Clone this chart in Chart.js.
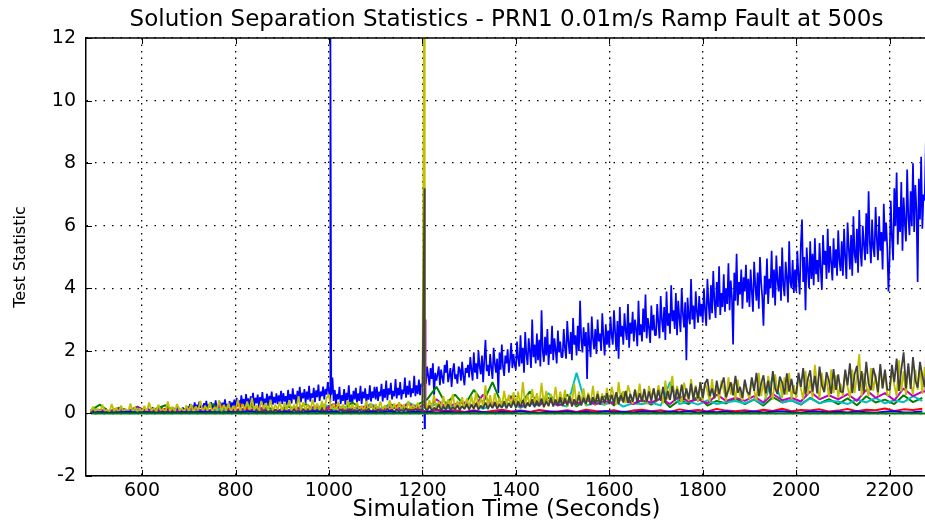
<!DOCTYPE html>
<html>
<head>
<meta charset="utf-8">
<title>Solution Separation Statistics</title>
<script src="https://cdn.jsdelivr.net/npm/chart.js@4.4.0/dist/chart.umd.min.js"></script>
<style>
  html, body { margin: 0; padding: 0; background: #fff; overflow: hidden; }
  #wrap { width: 927px; height: 522px; }
</style>
</head>
<body>
<div id="wrap"><canvas id="ssChart" width="927" height="522"></canvas></div>
<script>
// sample times (seconds) of the logged statistics
var blueStart = 490, blueStep = 2.5;
var denseStart = 490, denseStep = 5;
var sparseStart = 490, sparseStep = 20;

var xTickValues = [600, 800, 1000, 1200, 1400, 1600, 1800, 2000, 2200];
var yTickValues = [-2, 0, 2, 4, 6, 8, 10, 12];

// faulted satellite solution (blue), every 2.5 s from 490 s
var blueMain = [
	0.02,0.12,0.04,0.1,0.01,0.14,0.05,0.09,0.03,0.13,0.06,0.11,0.02,0.15,0.04,0.08,0.01,0.12,0.05,0.1,0.03,0.14,
	0.06,0.09,0.02,0.13,0.04,0.11,0.01,0.15,0.05,0.1,0.03,0.12,0.06,0.08,0.02,0.14,0.04,0.11,0.05,0.13,0.03,0.1,
	0.04,0.15,0.06,0.12,0.03,0.18,0.07,0.14,0.05,0.2,0.08,0.13,0.04,0.17,0.06,0.11,0.09,0.19,0.05,0.14,
	0.07,0.16,0.03,0.2,0.08,0.12,0.06,0.18,0.04,0.15,0.09,0.21,0.07,0.13,0.05,0.19,0.1,0.16,0.06,0.22,
	0.1,0.3,0.14,0.25,0.09,0.35,0.16,0.28,0.12,0.38,0.18,0.26,0.1,0.33,0.15,0.4,0.13,0.29,0.2,0.36,
	0.11,0.31,0.17,0.42,0.14,0.27,0.19,0.37,0.12,0.34,0.22,0.45,0.15,0.3,0.2,0.39,0.16,0.35,0.24,0.44,
	0.2,0.5,0.25,0.42,0.18,0.58,0.28,0.46,0.22,0.62,0.3,0.48,0.2,0.55,0.26,0.66,0.24,0.5,0.32,0.6,
	0.22,0.52,0.3,0.68,0.26,0.47,0.34,0.63,0.24,0.56,0.36,0.7,0.28,0.53,0.33,0.64,0.3,0.58,0.38,0.72,
	0.3,0.65,0.38,0.55,0.28,0.75,0.4,0.62,0.32,0.8,0.45,0.6,0.3,0.72,0.42,0.85,0.36,0.66,0.48,0.78,
	0.34,0.7,0.44,0.88,0.38,0.64,0.5,0.82,0.36,0.74,0.52,0.92,0.4,0.7,0.55,0.86,0.45,0.78,0.6,1.0,
	0.7,0.35,0.6,1.15,0.4,0.75,0.3,0.62,0.45,0.85,0.3,0.58,0.4,0.78,0.28,0.66,0.42,0.9,0.35,0.6,
	0.3,0.72,0.45,0.82,0.32,0.64,0.4,0.88,0.3,0.7,0.48,0.8,0.36,0.62,0.44,0.9,0.38,0.7,0.5,0.85,
	0.45,0.85,0.4,0.7,0.55,0.95,0.38,0.78,0.5,1.05,0.42,0.8,0.6,0.98,0.45,0.72,0.55,1.1,0.48,0.82,
	0.58,1.0,0.45,0.76,0.62,1.15,0.5,0.88,0.6,1.05,0.52,0.8,0.65,1.2,0.55,0.9,0.62,1.08,0.58,0.95,
	0.85,1.0,1.35,0.95,1.5,1.2,0.9,1.45,1.1,1.6,0.55,1.3,1.05,1.25,1.5,0.9,1.4,1.15,0.95,1.55,
	1.3,1.7,1.0,1.2,1.45,0.85,1.35,1.6,1.1,1.25,0.95,1.5,1.4,1.05,1.65,1.2,0.9,1.45,1.3,1.55,
	1.15,1.8,1.4,1.05,1.95,1.3,1.6,1.1,2.0,1.5,1.25,1.85,1.0,1.7,2.35,1.35,1.55,1.2,1.9,1.45,
	1.1,2.1,1.6,1.3,1.75,0.65,1.95,1.4,2.2,1.5,1.2,1.85,1.6,2.05,1.3,1.7,2.25,1.45,1.9,1.55,
	1.4,2.3,1.75,1.5,2.5,1.6,2.1,1.3,2.6,1.9,1.55,2.4,2.0,1.45,3.0,1.8,2.2,1.6,2.55,1.7,
	2.35,1.5,3.3,2.0,1.65,2.45,1.85,2.7,1.55,2.2,1.9,2.8,1.7,2.4,2.05,1.6,2.65,1.95,2.3,1.8,
	1.8,2.7,2.1,1.75,2.95,2.3,1.9,2.6,1.7,3.05,2.2,2.5,1.85,2.8,2.0,3.6,2.35,1.95,2.75,2.15,
	2.6,1.1,2.9,2.25,1.8,3.1,2.4,2.05,2.7,1.9,3.0,2.3,2.55,2.0,3.2,2.45,1.85,2.85,2.2,2.65,
	2.1,3.1,2.5,2.2,3.3,2.6,2.0,2.95,1.75,3.4,2.45,2.8,2.2,3.2,2.65,2.35,3.5,2.1,2.9,2.55,
	3.25,2.3,3.0,2.7,2.15,3.6,2.5,2.85,2.3,3.35,2.6,3.8,2.4,3.05,2.75,2.25,3.45,2.65,3.15,2.5,
	2.5,3.5,2.9,2.4,3.75,3.0,2.6,3.4,2.35,3.9,2.8,3.2,2.55,4.1,2.95,3.3,2.7,3.85,2.5,3.6,
	3.05,2.6,4.0,3.2,2.75,3.55,1.7,3.7,3.1,2.85,4.3,3.0,3.45,2.7,3.9,3.25,2.9,3.75,3.1,3.5,
	2.9,4.0,3.3,2.8,4.3,3.5,3.0,4.1,3.2,4.55,3.6,3.05,4.2,3.4,4.7,3.15,3.85,3.4,4.45,3.25,
	4.0,3.5,4.8,3.3,4.25,3.7,2.2,4.5,3.6,5.1,3.45,4.2,3.8,4.6,3.35,4.35,3.9,4.75,3.55,4.3,
	3.4,4.6,3.9,3.25,4.85,4.1,3.6,4.5,3.35,5.0,4.2,3.7,2.8,4.4,3.8,4.95,3.5,4.3,4.0,5.2,
	3.7,4.6,3.45,5.05,4.25,3.9,4.7,3.6,5.3,4.1,3.75,4.85,4.35,3.55,5.5,4.2,4.0,4.9,3.85,4.6,
	3.9,5.2,4.4,3.8,5.4,6.2,4.2,5.0,3.3,5.3,4.6,4.0,5.5,4.3,5.1,4.1,5.6,4.45,4.9,4.2,
	5.45,4.6,3.95,5.7,4.75,5.2,4.3,5.9,4.5,5.35,4.8,4.25,5.6,4.65,5.25,4.4,5.85,4.9,4.55,5.5,
	4.4,5.9,5.0,4.3,6.1,5.3,4.6,5.7,4.4,6.3,5.1,4.8,5.9,4.5,6.5,5.2,4.7,6.0,5.4,4.9,
	6.4,5.1,7.1,5.5,4.8,6.2,5.3,5.0,6.6,5.6,4.9,6.3,5.2,5.8,4.6,6.7,5.5,6.1,5.3,3.9,
	5.0,6.8,5.6,4.9,7.2,6.0,7.7,5.4,6.6,5.8,7.4,5.2,6.9,6.1,5.5,7.8,6.3,5.7,7.1,6.0,
	8.0,5.8,7.3,6.5,4.2,7.5,6.2,8.2,5.9,7.0,6.8,8.7,7.2
];
var blueMainSpike = [[1003, 13]];

// every 5 s from 490 s
var yellowVals = [
	0.03,0.22,0.06,0.15,0.02,0.28,0.08,0.12,0.04,0.3,0.07,0.18,0.02,0.25,0.05,0.14,0.03,0.32,0.06,0.2,0.04,0.16,
	0.05,0.24,0.03,0.35,0.08,0.18,0.04,0.28,0.1,0.15,0.03,0.38,0.06,0.22,0.05,0.3,0.09,0.17,0.04,0.26,
	0.06,0.3,0.04,0.22,0.1,0.4,0.05,0.25,0.08,0.35,0.04,0.2,0.12,0.42,0.06,0.28,0.09,0.33,0.05,0.24,
	0.08,0.45,0.06,0.3,0.12,0.38,0.07,0.5,0.1,0.26,0.05,0.4,0.14,0.32,0.08,0.44,0.06,0.28,0.12,0.36,
	0.07,0.34,0.1,0.42,0.06,0.28,0.12,0.55,0.08,0.36,0.1,0.3,0.06,0.45,0.13,0.32,0.08,0.4,0.11,0.5,
	0.6,0.1,0.32,0.06,0.38,0.12,0.28,0.08,0.42,0.1,0.3,0.06,0.36,0.12,0.25,0.08,0.4,0.1,0.33,0.07,
	0.3,0.08,0.38,0.12,0.26,0.06,0.42,0.1,0.32,0.08,0.36,0.14,0.28,0.07,0.4,0.11,0.3,0.09,0.35,0.12,
	0.2,0.5,0.12,0.42,0.18,0.6,0.14,0.38,0.2,0.55,0.12,0.45,0.22,0.62,0.15,0.4,0.2,0.52,0.13,0.48,
	0.18,0.55,0.22,0.7,0.16,0.48,0.25,0.9,0.2,0.58,0.18,0.65,0.24,0.5,0.2,0.72,0.26,0.6,0.18,0.68,
	0.25,0.7,0.2,1.0,0.28,0.6,0.22,0.78,0.3,0.65,0.24,0.98,0.28,0.72,0.22,0.62,0.3,0.85,0.25,0.7,
	0.28,0.75,0.22,0.62,0.3,0.95,0.26,0.7,0.32,0.8,0.24,0.66,0.3,0.88,0.28,0.72,0.34,0.64,0.26,0.82,
	0.3,0.85,0.55,0.28,1.0,0.4,0.7,0.32,0.9,0.62,0.3,0.78,0.45,0.95,0.35,0.68,0.3,0.88,0.5,0.8,
	0.36,0.9,0.6,0.32,1.05,0.45,0.8,1.2,0.38,0.88,0.55,0.34,0.98,0.65,0.4,1.1,0.5,0.9,0.36,1.0,
	0.4,1.0,0.7,0.38,1.1,0.5,0.92,0.42,1.05,0.75,0.4,1.15,0.6,0.95,0.44,1.08,0.55,0.42,0.98,0.7,
	0.45,1.1,0.75,0.42,1.3,0.55,1.0,0.46,1.2,0.8,0.44,1.25,0.65,1.08,0.48,1.15,0.6,1.3,0.46,0.9,
	0.5,1.2,0.8,0.45,1.35,0.6,1.1,0.5,1.55,0.85,0.48,1.3,0.7,1.12,0.52,1.4,0.65,1.22,0.5,0.95,
	0.55,1.3,0.85,0.5,1.4,0.65,1.2,1.9,0.55,1.28,0.9,0.55,1.45,0.72,1.25,0.56,1.5,0.8,1.35,0.58,
	0.6,1.45,0.9,0.55,1.7,0.7,1.35,0.58,1.5,0.95,0.6,1.4,0.75,1.55,0.62,1.48,0.7
];
var yellowSpike = [[1203.5, 13]];

var grayVals = [
	0.02,0.05,0.01,0.04,0.02,0.06,0.01,0.03,0.02,0.05,0.01,0.04,0.03,0.06,0.02,0.04,0.01,0.05,0.02,0.03,0.01,0.04,
	0.02,0.06,0.03,0.05,0.01,0.07,0.02,0.04,0.03,0.06,0.02,0.05,0.01,0.07,0.03,0.04,0.02,0.06,0.03,0.05,
	0.02,0.07,0.03,0.05,0.02,0.08,0.04,0.06,0.02,0.09,0.03,0.06,0.04,0.08,0.02,0.07,0.03,0.09,0.04,0.06,
	0.03,0.09,0.04,0.07,0.02,0.1,0.05,0.08,0.03,0.11,0.04,0.07,0.05,0.1,0.03,0.09,0.04,0.12,0.05,0.08,
	0.04,0.11,0.05,0.08,0.03,0.12,0.06,0.09,0.04,0.13,0.05,0.1,0.06,0.12,0.04,0.11,0.05,0.14,0.06,0.1,
	0.04,0.12,0.05,0.09,0.06,0.13,0.04,0.1,0.05,0.14,0.06,0.11,0.04,0.12,0.05,0.1,0.06,0.15,0.05,0.11,
	0.05,0.13,0.06,0.1,0.05,0.15,0.07,0.12,0.05,0.14,0.06,0.11,0.07,0.16,0.05,0.12,0.06,0.15,0.07,0.13,
	0.1,0.2,0.08,0.25,0.1,0.18,0.12,0.28,0.09,0.22,0.12,0.3,0.1,0.2,0.13,0.26,0.11,0.24,0.14,0.3,
	0.12,0.28,0.15,0.32,0.12,0.25,0.16,0.35,0.14,0.3,0.17,0.36,0.15,0.28,0.18,0.38,0.16,0.32,0.19,0.4,
	0.18,0.38,0.2,0.42,0.17,0.35,0.22,0.45,0.2,0.4,0.23,0.48,0.2,0.38,0.24,0.5,0.22,0.44,0.25,0.52,
	0.24,0.48,0.26,0.55,0.22,0.45,0.28,0.58,0.25,0.5,0.3,0.6,0.27,0.52,0.3,0.62,0.28,0.55,0.32,0.65,
	0.3,0.6,0.33,0.68,0.3,0.58,0.35,0.72,0.33,0.62,0.37,0.75,0.34,0.65,0.38,0.78,0.36,0.7,0.4,0.8,
	0.38,0.75,0.4,0.85,0.37,0.72,0.43,0.88,0.4,0.78,0.45,0.92,0.42,0.8,0.46,0.95,0.44,0.85,0.48,1.0,
	0.5,0.95,1.1,0.55,0.8,0.48,1.05,0.62,0.9,1.15,0.52,0.75,1.0,0.58,1.2,0.66,0.85,0.5,1.08,0.7,
	0.6,1.15,0.72,1.3,0.55,0.95,1.22,0.64,1.05,0.58,1.35,0.8,0.62,1.18,0.98,0.6,1.28,0.7,1.1,0.66,
	0.62,1.3,0.85,1.45,0.6,1.1,1.38,0.7,1.2,0.64,1.5,0.9,0.68,1.32,1.05,0.62,1.42,0.75,1.25,0.7,
	0.68,1.4,0.9,1.6,0.65,1.25,1.52,0.72,1.35,0.7,1.65,0.95,0.74,1.45,1.15,0.68,1.58,0.8,1.4,0.76,
	0.75,1.55,1.0,1.75,0.72,1.4,1.95,0.8,1.6,0.78,1.8,1.05,0.82,1.65,1.2,0.85,1.7
];
var graySpike = [[1204.5, 7.2]];

// every 20 s from 490 s
var greenVals = [
	0.1,0.28,0.05,0.18,0.08,0.22,0.04,0.15,0.26,0.07,
	0.12,0.2,0.06,0.3,0.1,0.16,0.08,0.25,0.12,0.18,
	0.08,0.22,0.14,0.3,0.1,0.2,0.28,0.12,0.35,0.15,
	0.22,0.1,0.3,0.18,0.12,0.28,0.45,0.85,0.3,0.6,
	0.25,0.75,0.35,1.0,0.28,0.55,0.3,0.7,0.25,0.5,
	0.3,0.6,0.22,0.45,0.35,0.55,0.25,0.68,0.3,0.42,
	0.28,0.5,0.2,0.42,0.3,0.55,0.25,0.4,0.32,0.48,
	0.3,0.45,0.25,0.52,0.35,0.42,0.28,0.5,0.32,0.46,
	0.3,0.48,0.26,0.55,0.35,0.44,0.3,0.58,0.36,0.5
];
var redVals = [
	0.05,0.1,0.02,0.08,0.04,0.12,0.03,0.07,0.15,0.05,
	0.08,0.04,0.12,0.06,0.2,0.1,0.3,0.08,0.15,0.05,
	0.1,0.06,0.18,0.08,0.12,0.05,0.22,0.1,0.07,0.14,
	0.06,0.12,0.08,0.3,0.1,0.15,0.05,0.12,0.08,0.1,
	0.05,0.1,0.04,0.08,0.12,0.06,0.09,0.05,0.11,0.07,
	0.06,0.1,0.05,0.12,0.08,0.06,0.1,0.04,0.09,0.12,
	0.07,0.1,0.05,0.13,0.08,0.11,0.06,0.14,0.09,0.07,
	0.1,0.06,0.12,0.08,0.15,0.07,0.11,0.09,0.13,0.06,
	0.09,0.14,0.07,0.12,0.1,0.16,0.08,0.13,0.11,0.15
];
var cyanVals = [
	0.03,0.08,0.05,0.12,0.04,0.1,0.06,0.14,0.05,0.09,
	0.07,0.12,0.05,0.1,0.15,0.06,0.12,0.08,0.18,0.1,
	0.12,0.08,0.2,0.1,0.15,0.28,0.12,0.22,0.1,0.18,
	0.3,0.15,0.25,0.12,0.35,0.2,0.18,0.3,0.15,0.22,
	0.2,0.3,0.15,0.28,0.22,0.35,0.18,0.3,0.25,0.65,
	0.3,0.22,1.3,0.25,0.35,0.28,0.4,0.22,0.32,0.3,
	0.35,0.25,1.0,0.3,0.38,0.28,0.42,0.3,0.36,0.4,
	0.32,0.45,0.3,1.15,0.35,0.42,0.3,0.48,0.33,0.4,
	0.38,0.3,0.45,0.35,0.5,0.32,0.42,0.36,0.55,0.4
];
var magentaVals = [
	0.04,0.1,0.06,0.15,0.05,0.2,0.08,0.12,0.05,0.1,
	0.08,0.18,0.06,0.12,0.25,0.08,0.14,0.1,0.2,0.07,
	0.12,0.08,0.18,0.1,0.22,0.12,0.3,0.1,0.15,0.2,
	0.25,0.12,0.2,0.15,0.3,0.18,0.12,0.45,0.2,0.3,
	0.35,0.2,0.6,0.25,0.3,0.5,0.22,0.35,0.28,0.4,
	0.25,0.38,0.3,0.45,0.28,0.4,0.32,0.5,0.3,0.42,
	0.35,0.48,0.3,0.55,0.38,0.45,0.32,0.6,0.4,0.5,
	0.4,0.55,0.35,0.62,0.42,0.5,0.38,0.7,0.45,0.58,
	0.45,0.62,0.4,0.75,0.5,0.65,0.42,0.8,0.55,0.7
];
var magentaSpike = [[1205.5, 0.3], [1206, 3.0], [1206.5, 0.3], [2277, 0.7], [2278, 2.1]];
var blueLowVals = [
	0.02,0.04,0.01,0.03,0.05,0.02,0.04,0.01,0.03,0.02,
	0.04,0.02,0.05,0.03,0.01,0.04,0.02,0.06,0.03,0.02,
	0.03,0.05,0.02,0.04,0.06,0.03,0.05,0.02,0.04,0.03,
	0.05,0.03,0.06,0.02,0.04,0.05,0.05,0.03,0.05,0.04,
	0.03,0.06,0.04,0.02,0.05,0.03,0.07,0.04,0.02,0.05,
	0.04,0.06,0.03,0.05,0.02,0.07,0.04,0.05,0.03,0.06,
	0.05,0.03,0.06,0.04,0.07,0.03,0.05,0.04,0.06,0.02,
	0.04,0.06,0.03,0.05,0.07,0.04,0.02,0.06,0.05,0.03,
	0.05,0.03,0.06,0.04,0.02,0.05,0.07,0.03,0.04,0.06
];
var blueLowSpike = [[1204.5, 0.03], [1205, -0.5], [1205.5, 0.03]];
var greenFlatTimes = [490, 2280];
var greenFlatVals = [0, 0];

var chartTitle = 'Solution Separation Statistics - PRN1 0.01m/s Ramp Fault at 500s';

function toPoints(start, step, values, extra) {
	var pts = values.map(function (v, i) { return { x: start + i * step, y: v }; });
	(extra || []).forEach(function (p) { pts.push({ x: p[0], y: p[1] }); });
	pts.sort(function (a, b) { return a.x - b.x; });
	return pts;
}

// MATLAB colour order; later series are drawn on top
var series = [
	['blue', '#0000ff', 1.7, toPoints(blueStart, blueStep, blueMain, blueMainSpike)],
	['green', '#008000', 2, toPoints(sparseStart, sparseStep, greenVals)],
	['red', '#ff0000', 2, toPoints(sparseStart, sparseStep, redVals)],
	['cyan', '#00bfbf', 2, toPoints(sparseStart, sparseStep, cyanVals)],
	['magenta', '#bf00bf', 2, toPoints(sparseStart, sparseStep, magentaVals, magentaSpike)],
	['yellow', '#bfbf00', 1.8, toPoints(denseStart, denseStep, yellowVals, yellowSpike)],
	['gray', '#404040', 1.8, toPoints(denseStart, denseStep, grayVals, graySpike)],
	['blue 2', '#0000ff', 2, toPoints(sparseStart, sparseStep, blueLowVals, blueLowSpike)],
	['green 2', '#008000', 2, greenFlatTimes.map(function (t, i) { return { x: t, y: greenFlatVals[i] }; })]
];

var datasets = series.map(function (s, i) {
	return {
		label: s[0],
		data: s[3],
		borderColor: s[1],
		backgroundColor: s[1],
		borderWidth: s[2],
		borderJoinStyle: 'bevel',
		pointRadius: 0,
		tension: 0,
		fill: false,
		order: series.length - i
	};
});

// top box line, inward ticks and title centred over the axes
var matlabAxes = {
	id: 'matlabAxes',
	beforeDraw: function (chart) {
		if (chart.titleBlock) {
			chart.titleBlock.left = chart.chartArea.left;
			chart.titleBlock.right = chart.chartArea.right;
		}
	},
	afterDraw: function (chart) {
		var ctx = chart.ctx, a = chart.chartArea;
		var sx = chart.scales.x, sy = chart.scales.y, len = 6;
		ctx.save();
		ctx.strokeStyle = '#000';
		ctx.lineWidth = 1.5;
		ctx.beginPath();
		ctx.moveTo(a.left, a.top);
		ctx.lineTo(a.right, a.top);
		ctx.stroke();
		ctx.lineWidth = 1;
		ctx.beginPath();
		sx.ticks.forEach(function (t) {
			var px = Math.round(sx.getPixelForValue(t.value)) + 0.5;
			ctx.moveTo(px, a.bottom);
			ctx.lineTo(px, a.bottom - len);
			ctx.moveTo(px, a.top);
			ctx.lineTo(px, a.top + len);
		});
		sy.ticks.forEach(function (t) {
			var py = Math.round(sy.getPixelForValue(t.value)) + 0.5;
			ctx.moveTo(a.left, py);
			ctx.lineTo(a.left + len, py);
		});
		ctx.stroke();
		ctx.restore();
	}
};

function plainTick(v) { return String(v); }

Chart.defaults.font.family = "'DejaVu Sans', sans-serif";
Chart.defaults.color = '#000';

var ctx = document.getElementById('ssChart').getContext('2d');
var ssChart = new Chart(ctx, {
	type: 'line',
	data: { datasets: datasets },
	plugins: [matlabAxes],
	options: {
		responsive: false,
		animation: false,
		events: [],
		layout: { padding: 0 },
		plugins: {
			legend: { display: false },
			tooltip: { enabled: false },
			title: {
				display: true,
				text: chartTitle,
				color: '#000',
				font: { size: 23, weight: 'normal', lineHeight: 1.1 },
				padding: { top: 7, bottom: 5.7 }
			}
		},
		scales: {
			x: {
				type: 'linear',
				min: 480,
				max: 2280,
				afterFit: function (s) { s.height = 46; },
				afterBuildTicks: function (s) { s.ticks = xTickValues.map(function (v) { return { value: v }; }); },
				grid: { color: '#000', lineWidth: 1.3, drawTicks: false },
				border: { display: true, color: '#000', width: 1.5, dash: [1.5, 5] },
				ticks: { color: '#000', font: { size: 19 }, padding: 4, maxRotation: 0, autoSkip: false, callback: plainTick },
				title: {
					display: true,
					text: 'Simulation Time (Seconds)',
					color: '#000',
					font: { size: 23, lineHeight: 1 },
					padding: { top: 0, bottom: 0 }
				}
			},
			y: {
				type: 'linear',
				min: -2,
				max: 12,
				afterFit: function (s) { s.width = 86; },
				afterBuildTicks: function (s) { s.ticks = yTickValues.map(function (v) { return { value: v }; }); },
				grid: { color: '#000', lineWidth: 1.3, drawTicks: false },
				border: { display: true, color: '#000', width: 1.5, dash: [1.5, 7] },
				ticks: { color: '#000', font: { size: 19 }, padding: 10, callback: plainTick },
				title: {
					display: true,
					text: 'Test Statistic',
					color: '#000',
					font: { size: 16, lineHeight: 1.2 },
					padding: { top: 11, bottom: 0 }
				}
			}
		}
	}
});
</script>
</body>
</html>
